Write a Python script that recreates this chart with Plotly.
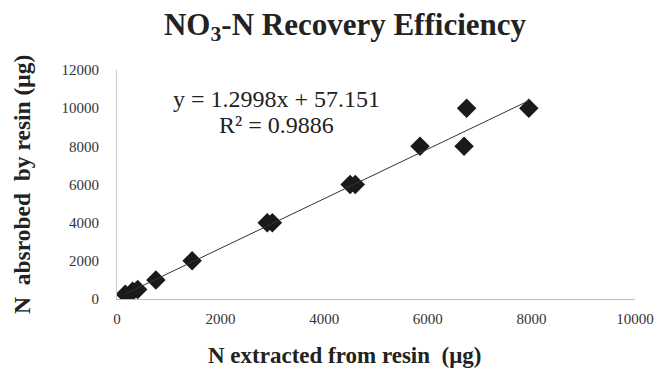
import plotly.graph_objects as go

# Data (µg)
n_extracted = [160, 300, 400, 750, 1450, 2900, 3000, 4500, 4600, 5850, 6700, 6750, 7950]
n_absorbed = [250, 400, 500, 1000, 2000, 4000, 4000, 6000, 6000, 8000, 8000, 10000, 10000]

slope = 1.2998
intercept = 57.151
r_squared = 0.9886

x_ticks = [0, 2000, 4000, 6000, 8000, 10000]
y_ticks = [0, 2000, 4000, 6000, 8000, 10000, 12000]

W, H = 668, 375
L, R, T, B = 117, 33, 70, 76
pw, ph = W - L - R, H - T - B

def px(x):
    return (x - L) / pw

def py(y):
    return (H - B - y) / ph

serif = "Liberation Serif, Times New Roman, serif"

fig = go.Figure()
fig.add_trace(go.Scatter(
    x=n_extracted, y=n_absorbed, mode="markers",
    marker=dict(symbol="diamond", size=15, color="#1a1a1a"),
    showlegend=False,
))
tx = [min(n_extracted), max(n_extracted)]
ty = [slope * v + intercept for v in tx]
fig.add_trace(go.Scatter(
    x=tx, y=ty, mode="lines",
    line=dict(color="#333333", width=1),
    showlegend=False,
))

def ann(text, x, y, size, angle=0):
    return dict(text=text, x=px(x), y=py(y), xref="paper", yref="paper",
                xanchor="center", yanchor="middle", showarrow=False,
                textangle=angle, font=dict(family=serif, size=size, color="#222222"))

fig.update_layout(
    width=W, height=H,
    margin=dict(l=L, r=R, t=T, b=B),
    paper_bgcolor="white", plot_bgcolor="white",
    title=dict(
        text="<b>NO<sub>3</sub>-N Recovery Efficiency</b>",
        x=345 / W, xanchor="center", y=1 - 24 / H, yanchor="middle",
        font=dict(family=serif, size=31, color="#222222"),
    ),
    xaxis=dict(
        range=[0, 10000], tickvals=x_ticks, ticktext=[str(v) for v in x_ticks],
        showgrid=False, zeroline=False, showline=True, linecolor="#bbbbbb",
        linewidth=1, ticks="", ticklabelstandoff=6,
        tickfont=dict(family=serif, size=15, color="#333333"),
    ),
    yaxis=dict(
        range=[0, 12000], tickvals=y_ticks, ticktext=[str(v) for v in y_ticks],
        showgrid=False, zeroline=False, showline=True, linecolor="#cccccc",
        linewidth=1, ticks="", ticklabelstandoff=14,
        tickfont=dict(family=serif, size=15, color="#333333"),
    ),
    annotations=[
        ann("y = 1.2998x + 57.151", 276, 99, 24),
        ann("R² = 0.9886", 276, 125, 24),
        ann("<b>N extracted from resin  (μg)</b>", 344, 355, 23),
        ann("<b>N  absrobed  by resin (μg)</b>", 22, 185, 23.5, -90),
    ],
)

fig.write_html("out.html")
